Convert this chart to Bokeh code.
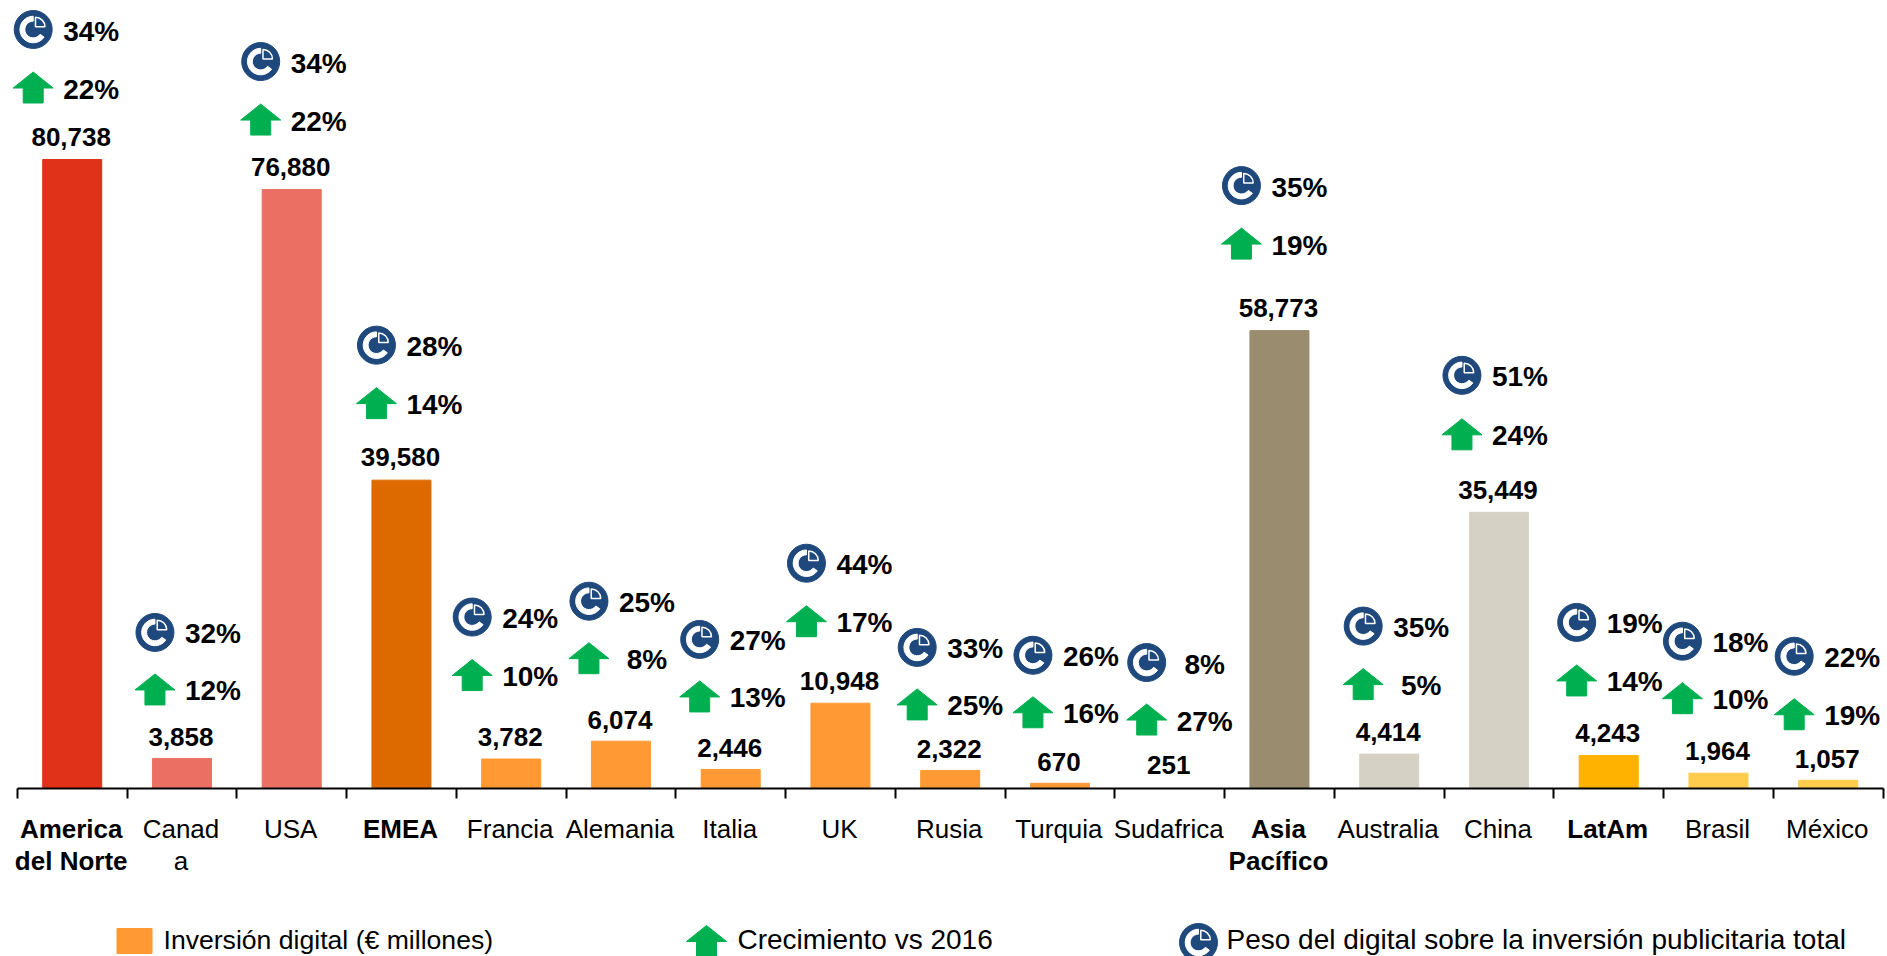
import math
from bokeh.core.properties import value
from bokeh.embed import file_html
from bokeh.models import ColumnDataSource, FixedTicker, LinearAxis, Range1d
from bokeh.plotting import figure
from bokeh.resources import INLINE

categories = ["America\ndel Norte", "Canad\na", "USA", "EMEA", "Francia", "Alemania", "Italia", "UK", "Rusia",
              "Turquia", "Sudafrica", "Asia\nPacífico", "Australia", "China", "LatAm", "Brasil", "México"]
bold_categories = ["America\ndel Norte", "EMEA", "Asia\nPacífico", "LatAm"]
inversion = [80738, 3858, 76880, 39580, 3782, 6074, 2446, 10948, 2322, 670, 251, 58773, 4414, 35449, 4243, 1964, 1057]
crecimiento = [22, 12, 22, 14, 10, 8, 13, 17, 25, 16, 27, 19, 5, 24, 14, 10, 19]
peso = [34, 32, 34, 28, 24, 25, 27, 44, 33, 26, 8, 35, 35, 51, 19, 18, 22]
value_labels = ["80,738", "3,858", "76,880", "39,580", "3,782", "6,074", "2,446", "10,948", "2,322", "670", "251",
                "58,773", "4,414", "35,449", "4,243", "1,964", "1,057"]
legend_labels = ["Inversión digital (€ millones)", "Crecimiento vs 2016", "Peso del digital sobre la inversión publicitaria total"]

# Sudafrica's bar does not show in the original, so it is left white
bar_colors = ["#E03219", "#EB6F63", "#EB6F63", "#DC6A00", "#FF9933", "#FF9933", "#FF9933", "#FF9933", "#FF9933",
              "#FF9933", "#FFFFFF", "#998C6F", "#D5D2C5", "#D5D2C5", "#FFB300", "#FFCC4D", "#FFCC4D"]
# layout, in page px: icon centre relative to bar centre, and heights above the bar top
icon_dx = [-39, -27, -31, -25, -39, -32, -31, -34, -33, -27, -23, -38, -26, -37, -32, -36, -34]
icon_up = [130, 126, 128, 135, 142, 140, 130, 140, 123, 128, 124, 145, 128, 137, 133, 132, 124]
arrow_up = [72, 69, 70, 77, 84, 83, 73, 82, 66, 71, 67, 87, 70, 78, 75, 75, 66]
label_up = [23, 21, 23, 23, 22, 21, 21, 22, 21, 21, 22, 23, 22, 22, 22, 22, 21]

W, H = 1887, 956
STEP, PX_PER_UNIT = 109.75, 629 / 80738
X0, Y0 = 71.7, 788  # position in the figure of the first bar centre and the baseline
xr = Range1d(-X0 / STEP, (W - X0) / STEP)
yr = Range1d(-(H - Y0) / PX_PER_UNIT, Y0 / PX_PER_UNIT)
px_x = lambda n: n / STEP
px_y = lambda n: n / PX_PER_UNIT

p = figure(width=W, height=H, x_range=xr, y_range=yr, output_backend="svg", toolbar_location=None,
           min_border=0, outline_line_color=None, x_axis_type=None, y_axis_type=None)
p.grid.visible = False

idx = list(range(len(categories)))
p.vbar(x=idx, top=inversion, bottom=0, width=59 / STEP, color=bar_colors)

FONT = value("Liberation Sans")
boundaries = [i - 0.5 for i in range(len(categories) + 1)]
ax = LinearAxis(fixed_location=0, axis_line_color="black", axis_line_width=2)
ax.ticker = FixedTicker(ticks=[], minor_ticks=boundaries)
ax.bounds = (boundaries[0], boundaries[-1])
ax.major_label_text_color = None
ax.major_tick_line_color = None
ax.minor_tick_line_color = "black"
ax.minor_tick_line_width = 2
ax.minor_tick_out = 10
ax.minor_tick_in = 0
p.add_layout(ax, "below")

for bold in (False, True):
    chosen = [i for i in idx if (categories[i] in bold_categories) == bold]
    p.text(x=[i - px_x(1) for i in chosen], y=[-px_y(25)] * len(chosen), text=[categories[i] for i in chosen],
           text_font=FONT, text_font_size="26px", text_font_style="bold" if bold else "normal",
           text_align="center", text_baseline="top", text_color="black", text_line_height=1.07)


def icon(cx, cy, r):
    """Round badge with the little pie pictogram, r in screen px."""
    p.scatter([cx], [cy], marker="circle", size=2 * r, color="#1F497D", line_color="#1F497D")
    p.annular_wedge([cx], [cy], inner_radius=0.44 * r, outer_radius=0.7 * r, inner_radius_units="screen",
                    outer_radius_units="screen", start_angle=math.radians(-35), end_angle=math.radians(90),
                    direction="clock", color="white")
    p.wedge([cx + px_x(0.12 * r)], [cy + px_y(0.14 * r)], radius=0.5 * r, radius_units="screen",
            start_angle=math.radians(0), end_angle=math.radians(90), fill_color="#1F497D",
            line_color="white", line_width=1.5)


def arrow(cx, cy, hw=20, head=16, stem=10, tail=15):
    """Up arrow polygon, sizes in screen px; cy is the arrow centre."""
    top = cy + px_y((head + tail) / 2)
    neck = top - px_y(head)
    low = neck - px_y(tail)
    xs = [cx, cx + px_x(hw), cx + px_x(stem), cx + px_x(stem), cx - px_x(stem), cx - px_x(stem), cx - px_x(hw)]
    ys = [top, neck, neck, low, low, neck, neck]
    p.patch(xs, ys, color="#00B050")


for i in idx:
    cx = i + px_x(icon_dx[i])
    icon(cx, inversion[i] + px_y(icon_up[i]), 19)
    arrow(cx, inversion[i] + px_y(arrow_up[i]))

pct_x = [i + px_x(icon_dx[i] + 58) for i in idx]
src = ColumnDataSource(dict(
    x=[i - px_x(1) for i in idx], pct_x=pct_x,
    label=value_labels,
    ly=[inversion[i] + px_y(label_up[i]) for i in idx],
    py=[inversion[i] + px_y(icon_up[i] - 1.5) for i in idx],
    ay=[inversion[i] + px_y(arrow_up[i] - 1.5) for i in idx],
    pt=[f"{v}%" for v in peso],
    at=[f"{v}%" for v in crecimiento],
))
common = dict(source=src, text_font=FONT, text_font_style="bold", text_color="black", text_baseline="middle")
p.text(x="x", y="ly", text="label", text_font_size="26px", text_align="center", **common)
p.text(x="pct_x", y="py", text="pt", text_font_size="28px", text_align="center", **common)
p.text(x="pct_x", y="ay", text="at", text_font_size="28px", text_align="center", **common)

# legend, drawn at the page position of the original
to_x = lambda page: (page - X0) / STEP
to_y = lambda page: px_y(Y0 - page)
p.rect([to_x(134)], [to_y(940.5)], width=35 / STEP, height=px_y(25), color="#FF9933")
arrow(to_x(706), to_y(940.5))
icon(to_x(1198), to_y(942), 19)
legend_sizes = ["26.6px", "28px", "28px"]
for lx, label, size in zip((163, 737, 1226), legend_labels, legend_sizes):
    p.text([to_x(lx)], [to_y(939)], text=[label], text_font=FONT, text_font_size=size,
           text_baseline="middle", text_align="left", text_color="black")

open("out.html", "w").write(file_html(p, INLINE))
